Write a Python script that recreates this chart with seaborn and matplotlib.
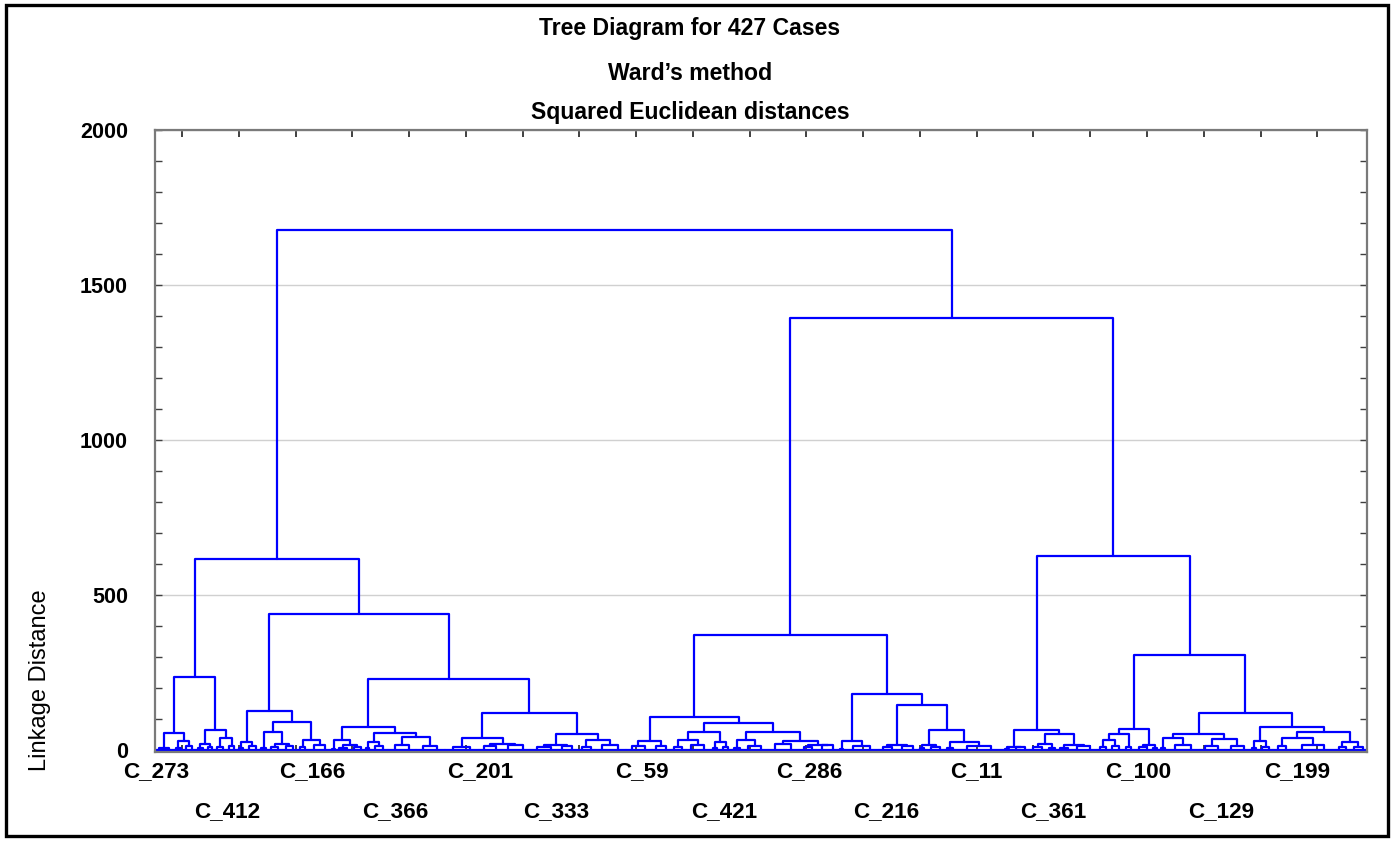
import numpy as np
import pandas as pd
import matplotlib
matplotlib.use("Agg")
import matplotlib.pyplot as plt
import seaborn as sns
from matplotlib import font_manager as fm
from matplotlib.patches import Rectangle
from matplotlib.ticker import MultipleLocator
from matplotlib.transforms import blended_transform_factory

# ---------------- data ----------------
TITLE_LINES = ["Tree Diagram for 427 Cases", "Ward\u2019s method", "Squared Euclidean distances"]
Y_LABEL = "Linkage Distance"
Y_TICKS = [0, 500, 1000, 1500, 2000]

# leaf-level groups (left to right): number of cases and small internal linkage
GROUP_NAMES = [f"g{i:02d}" for i in range(1, 69)]
GROUP_SIZES = [7, 3, 4, 4, 3, 4, 4, 3, 5, 3, 5, 5, 4, 8, 2, 5, 5, 2, 6, 10,
               10, 12, 8, 10, 10, 7, 6, 11, 9, 7, 5, 9, 3, 4, 4, 9, 11, 6, 8, 2,
               12, 6, 8, 3, 6, 4, 17, 3, 6, 6, 4, 5, 9, 4, 5, 4, 6, 3, 3, 11,
               9, 9, 3, 5, 6, 16, 5, 6]
GROUP_HEIGHTS = [6, 8, 12, 7, 10, 9, 14, 8, 12, 6, 10, 14, 9, 16, 4, 8, 10, 6, 12, 18,
                 14, 10, 12, 16, 9, 12, 10, 15, 12, 14, 10, 16, 6, 9, 8, 14, 20, 9, 15, 5,
                 14, 10, 12, 7, 10, 6, 12, 5, 9, 10, 7, 8, 14, 10, 12, 9, 11, 6, 8, 16,
                 14, 12, 7, 10, 12, 18, 9, 11]

# merges (children listed before parents)
MERGE_NAMES = ["A1a2", "A1a", "A1b1", "A1b2", "A1b", "A1",
               "A2a1", "A2a2a2", "A2a2a", "A2a2b", "A2a2", "A2a",
               "A2b1a2", "A2b1a", "A2b1b1", "A2b1b2", "A2b1b", "A2b1",
               "A2b2a2", "A2b2a", "A2b2b1", "A2b2b2", "A2b2b", "A2b2", "A2b", "A2", "A",
               "B1a", "B1b1a", "B1b1b", "B1b1", "B1b2a", "B1b2b2", "B1b2b", "B1b2", "B1b", "B1",
               "B2a", "B2b1", "B2b2a", "B2b2b", "B2b2", "B2b", "B2", "B",
               "C1a", "C1b1", "C1b2", "C1b", "C1",
               "C2a1a", "C2a1", "C2a2", "C2a",
               "C2b1a", "C2b1b", "C2b1", "C2b2a", "C2b2b1", "C2b2b2", "C2b2b", "C2b2", "C2b", "C2", "C",
               "BC", "ROOT"]
MERGE_LEFT = ["g02", "g01", "g04", "g06", "A1b1", "A1a",
              "g08", "g11", "g10", "g13", "A2a2a", "A2a1",
              "g16", "g15", "g18", "g20", "A2b1b1", "A2b1a",
              "g23", "g22", "g25", "g27", "A2b2b1", "A2b2a", "A2b1", "A2a", "A1",
              "g29", "g31", "g33", "B1b1a", "g35", "g38", "g37", "B1b2a", "B1b1", "B1a",
              "g40", "g42", "g44", "g46", "B2b2a", "B2b1", "B2a", "B1",
              "g48", "g50", "g52", "C1b1", "C1a",
              "g54", "C2a1a", "g57", "C2a1",
              "g59", "g61", "C2b1a", "g63", "g65", "g67", "C2b2b1", "C2b2a", "C2b1", "C2a", "C1",
              "B", "A"]
MERGE_RIGHT = ["g03", "A1a2", "g05", "g07", "A1b2", "A1b",
               "g09", "g12", "A2a2a2", "g14", "A2a2b", "A2a2",
               "g17", "A2b1a2", "g19", "g21", "A2b1b2", "A2b1b",
               "g24", "A2b2a2", "g26", "g28", "A2b2b2", "A2b2b", "A2b2", "A2b", "A2",
               "g30", "g32", "g34", "B1b1b", "g36", "g39", "B1b2b2", "B1b2b", "B1b2", "B1b",
               "g41", "g43", "g45", "g47", "B2b2b", "B2b2", "B2b", "B2",
               "g49", "g51", "g53", "C1b2", "C1b",
               "g55", "g56", "g58", "C2a2",
               "g60", "g62", "C2b1b", "g64", "g66", "g68", "C2b2b2", "C2b2b", "C2b2", "C2b", "C2",
               "C", "BC"]
MERGE_HEIGHT = [29, 55, 19, 39, 64, 235,
                26, 20, 58, 32, 90, 126,
                15, 32, 26, 42, 55, 74,
                20, 40, 18, 32, 52, 119, 229, 439, 616,
                29, 32, 25, 58, 32, 18, 29, 58, 87, 106,
                29, 18, 15, 25, 65, 145, 181, 371,
                10, 20, 15, 52, 64,
                32, 52, 18, 68,
                38, 35, 52, 29, 39, 26, 58, 74, 121, 306, 626,
                1394, 1677]

CASE_LABELS = ["C_273", "C_412", "C_166", "C_366", "C_201", "C_333", "C_59", "C_421",
               "C_286", "C_216", "C_11", "C_361", "C_100", "C_129", "C_199"]
CASE_LABEL_LEAF = [0, 25, 55, 84, 114, 141, 171, 200, 230, 257, 289, 316, 346, 375, 402]

# ---------------- fonts ----------------
sns.set_theme(style="white")
available = {f.name for f in fm.fontManager.ttflist}
NARROW = "Liberation Sans Narrow" if "Liberation Sans Narrow" in available else None
MAIN = NARROW or "Liberation Sans"
plt.rcParams["font.family"] = [MAIN, "DejaVu Sans"]
if NARROW:
    TITLE_FS, XLAB_FS, YTICK_FS, YLAB_FS = 17, 19, 15, 17
else:
    TITLE_FS, XLAB_FS, YTICK_FS, YLAB_FS = 16.6, 16.2, 15.5, 17

# ---------------- build dendrogram segments ----------------
rows = []
pos, top = {}, {}
starts = np.concatenate([[0], np.cumsum(GROUP_SIZES)[:-1]])
seg = 0
for name, n, s, gh in zip(GROUP_NAMES, GROUP_SIZES, starts, GROUP_HEIGHTS):
    rows += [(seg, s, 0.0), (seg, s + n, 0.0)]
    seg += 1
    a = n // 2
    lc = s + a / 2
    rc = s + a + (n - a) / 2
    rows += [(seg, lc, 0.0), (seg, lc, gh), (seg, rc, gh), (seg, rc, 0.0)]
    seg += 1
    pos[name] = (lc + rc) / 2
    top[name] = gh

for name, l, r, h in zip(MERGE_NAMES, MERGE_LEFT, MERGE_RIGHT, MERGE_HEIGHT):
    xl, xr = pos[l], pos[r]
    rows += [(seg, xl, top[l]), (seg, xl, h), (seg, xr, h), (seg, xr, top[r])]
    seg += 1
    pos[name] = (xl + xr) / 2
    top[name] = h

df = pd.DataFrame(rows, columns=["seg", "x", "y"])
N = int(np.sum(GROUP_SIZES))

# ---------------- figure ----------------
W, H = 1394, 841
fig = plt.figure(figsize=(W / 100, H / 100), dpi=100)
ax = fig.add_axes([155 / W, 1 - 752 / H, (1367 - 155) / W, (752 - 130) / H])

sns.lineplot(data=df, x="x", y="y", units="seg", estimator=None, sort=False,
             color="#0000ff", lw=1.6, ax=ax, legend=False)

ax.set_xlim(0, N)
ax.set_ylim(-6, 2000)
ax.set_xlabel("")
ax.set_ylabel("")

ax.set_yticks(Y_TICKS)
ax.set_yticklabels([str(v) for v in Y_TICKS], fontsize=YTICK_FS,
                   fontweight="bold", color="black", family=["Liberation Sans", "DejaVu Sans"])
ax.yaxis.set_minor_locator(MultipleLocator(100))
ax.tick_params(axis="y", which="both", direction="in", left=True, right=True,
               length=5, width=1, color="#404040", pad=19.5)
ax.grid(axis="y", which="major", color="#d0d0d0", lw=1)
ax.grid(axis="x", visible=False)

ax.set_xticks(np.arange(9.5, N, 20))
ax.tick_params(axis="x", which="major", direction="in", top=True, bottom=True,
               labelbottom=False, length=5, width=1.2, color="#202020")

for sp in ax.spines.values():
    sp.set_color("#7a7a7a")
    sp.set_linewidth(1.6)
ax.set_axisbelow(True)

trans = blended_transform_factory(ax.transData, fig.transFigure)
for i, (lab, leaf) in enumerate(zip(CASE_LABELS, CASE_LABEL_LEAF)):
    y = 1 - (772 if i % 2 == 0 else 812) / H
    ax.text(leaf + 0.5, y, lab, transform=trans, ha="center", va="center",
            fontsize=XLAB_FS, fontweight="bold", color="black", clip_on=False)

for txt, yp in zip(TITLE_LINES, [28, 74, 113]):
    fig.text(690 / W, 1 - yp / H, txt, ha="center", va="center",
             fontsize=TITLE_FS, fontweight="bold", color="black")

fig.text(40 / W, 1 - 680 / H, Y_LABEL, rotation=90, ha="center", va="center",
         fontsize=YLAB_FS, color="black")

fig.add_artist(Rectangle((6 / W, 5 / H), (1388 - 6) / W, (836 - 5) / H,
                         transform=fig.transFigure, fill=False, lw=2.4, ec="black"))

fig.savefig("out.png", dpi=100)
